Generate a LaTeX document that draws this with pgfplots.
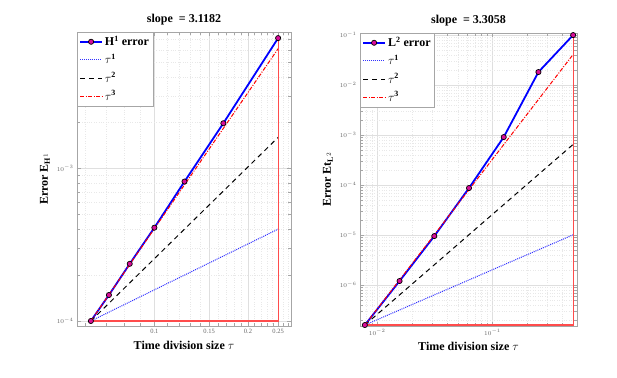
\documentclass[border=0pt]{standalone}
\usepackage{fontspec}
\setmainfont{Liberation Serif}
\usepackage{pgfplots}
\pgfplotsset{compat=1.18}
\definecolor{mblue}{rgb}{0,0,1}
\definecolor{mmag}{rgb}{0.85,0.05,0.6}
\definecolor{trired}{rgb}{1,0.3,0.3}
\definecolor{dotblue}{rgb}{0.2,0.2,1}
\pgfplotsset{
 every axis/.append style={
  scale only axis,
  xmode=log, ymode=log,
  grid=both,
  major grid style={gray!25, line width=0.3pt},
  minor grid style={gray!18, dotted, line width=0.3pt},
  axis line style={gray!70},
  tick style={gray!70},
  tick label style={font=\fontsize{6.5}{7}\selectfont, text=gray!80!black},
  title style={font=\bfseries\fontsize{12}{14}\selectfont, yshift=-3pt},
  xlabel style={font=\bfseries\fontsize{12}{14}\selectfont},
  ylabel style={font=\bfseries\fontsize{12}{14}\selectfont},
  legend style={at={(0,1)}, anchor=north west, draw=gray!70, fill=white,
    font=\bfseries\fontsize{12}{14}\selectfont, row sep=3pt, inner sep=2pt},
  legend cell align=left,
  legend image code/.code={\draw[mark repeat=2,mark phase=2,#1] plot coordinates {(0pt,0pt)(11pt,0pt)(22pt,0pt)};},
 },
}
\begin{document}
\begin{tikzpicture}
\path[use as bounding box] (0pt,0pt) rectangle (617pt,377pt);
\begin{axis}[at={(77pt,51pt)}, anchor=south west, width=214pt, height=294pt,
  xmin=0.0564, xmax=0.275, ymin=0.927e-4, ymax=7.85e-3,
  xtick={0.1,0.15,0.2,0.25}, xticklabels={0.1,0.15,0.2,0.25},
  minor xtick={0.06,0.07,0.08,0.09,0.11,0.12,0.13,0.14,0.16,0.17,0.18,0.19,0.21,0.22,0.23,0.24,0.26,0.27},
  title={slope \ = 3.1182},
  xlabel={Time division size $\tau$},
  ylabel={Error E$_{\mathbf{H}^{1}}$}]
\addplot[color=mblue, line width=1.8pt, mark=*, mark size=2.6pt, mark options={fill=mmag, draw=black, line width=0.7pt, solid}] coordinates {(0.0625,1.0e-4)(0.071429,1.48e-4)(0.083333,2.37e-4)(0.1,4.09e-4)(0.125,8.21e-4)(0.166667,1.98e-3)(0.25,7.16e-3)};
\addlegendentry{H$^{\mathbf{1}}$ error}
\addplot[color=dotblue, densely dotted, line width=1pt] coordinates {(0.0625,1.0e-4)(0.25,4.0e-4)};
\addlegendentry{$\tau^{\mathbf{1}}$}
\addplot[color=black, dash pattern=on 5pt off 4pt, line width=1pt] coordinates {(0.0625,1.0e-4)(0.25,1.6e-3)};
\addlegendentry{$\tau^{\mathbf{2}}$}
\addplot[color=red, dash pattern=on 4pt off 1.5pt on 1pt off 1.5pt, line width=1pt] coordinates {(0.0625,1.0e-4)(0.25,6.1e-3)};
\addlegendentry{$\tau^{\mathbf{3}}$}
\addplot[color=trired, line width=1.1pt, forget plot] coordinates {(0.0625,1.0e-4)(0.25,1.0e-4)(0.25,7.16e-3)};
\end{axis}
\begin{axis}[at={(360pt,51pt)}, anchor=south west, width=217pt, height=293pt,
  xmin=0.00709, xmax=0.54, ymin=1.51e-7, ymax=0.11,
  title={slope \ = 3.3058},
  xlabel={Time division size $\tau$},
  ylabel={Error Et$_{\mathbf{L}^{2}}$}]
\addplot[color=mblue, line width=1.8pt, mark=*, mark size=2.6pt, mark options={fill=mmag, draw=black, line width=0.7pt, solid}] coordinates {(0.0078125,1.58e-7)(0.015625,1.2e-6)(0.03125,9.5e-6)(0.0625,8.7e-5)(0.125,9.1e-4)(0.25,1.82e-2)(0.5,0.1)};
\addlegendentry{L$^{\mathbf{2}}$ error}
\addplot[color=dotblue, densely dotted, line width=1pt] coordinates {(0.0078125,1.58e-7)(0.5,1.01e-5)};
\addlegendentry{$\tau^{\mathbf{1}}$}
\addplot[color=black, dash pattern=on 5pt off 4pt, line width=1pt] coordinates {(0.0078125,1.58e-7)(0.5,6.5e-4)};
\addlegendentry{$\tau^{\mathbf{2}}$}
\addplot[color=red, dash pattern=on 4pt off 1.5pt on 1pt off 1.5pt, line width=1pt] coordinates {(0.0078125,1.58e-7)(0.5,4.1e-2)};
\addlegendentry{$\tau^{\mathbf{3}}$}
\addplot[color=trired, line width=1.1pt, forget plot] coordinates {(0.0078125,1.58e-7)(0.5,1.58e-7)(0.5,0.1)};
\end{axis}
\end{tikzpicture}
\end{document}
